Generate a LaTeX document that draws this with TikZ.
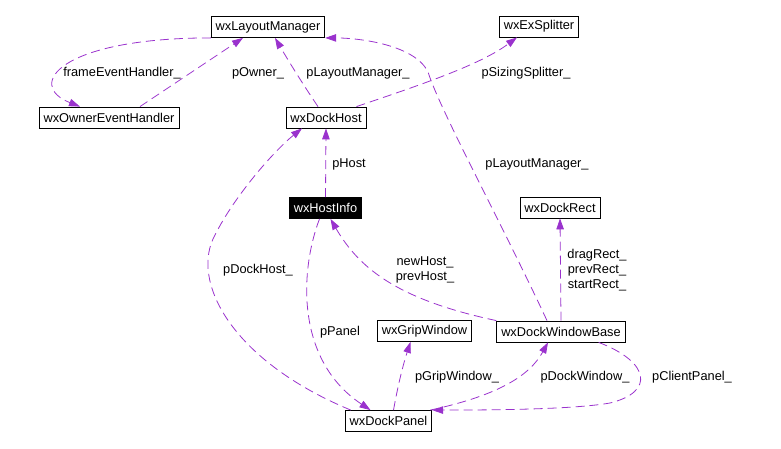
\documentclass[tikz,border=0pt]{standalone}
\usepackage{fontspec}
\setmainfont{Liberation Sans}
\usetikzlibrary{arrows.meta, calc}
\definecolor{usagecol}{HTML}{9A32CD}

\begin{document}
\begin{tikzpicture}[x=1pt, y=-1pt,
    font=\fontsize{12.8}{15}\selectfont,
    cls/.style={draw, rectangle, line width=0.8pt, inner xsep=4.5pt, inner ysep=0pt, minimum height=21pt},
    focus/.style={cls, fill=black, text=white},
    usage/.style={draw=usagecol, line width=0.8pt, dash pattern=on 9pt off 5pt, -{Triangle[length=11pt, width=7.5pt, fill=usagecol]}},
    lbl/.style={inner sep=0pt, align=center}]
    \useasboundingbox (0,0) rectangle (781,449);
    % classes
    \node[cls] (lm) at (268,27) {wxLayoutManager};
    \node[cls] (oeh) at (109,117.5) {wxOwnerEventHandler};
    \node[cls] (dh) at (326,117.5) {wxDockHost};
    \node[cls] (exs) at (539,26.5) {wxExSplitter};
    \node[focus] (hi) at (325.5,208) {wxHostInfo};
    \node[cls] (dr) at (560,207.5) {wxDockRect};
    \node[cls] (gw) at (424.5,331) {wxGripWindow};
    \node[cls] (dwb) at (561,331.5) {wxDockWindowBase};
    \node[cls] (dp) at (388.5,421) {wxDockPanel};
    % members
    \draw[usage] (lm.south west) .. controls (60,38) and (25,85) .. ($(oeh.north)+(-29,0)$);
    \node[lbl] (l1) at (122,73) {frameEventHandler\_};
    \draw[usage] ($(oeh.north)+(31,0)$) -- ($(lm.south)+(-25,0)$);
    \node[lbl] (l2) at (258,73) {pOwner\_};
    \draw[usage] ($(dh.north)+(-8,0)$) .. controls (300,80) and (285,55) .. ($(lm.south)+(7,0)$);
    \node[lbl] (l3) at (358,73) {pLayoutManager\_};
    \draw[usage] ($(dh.north east)+(-10,0)$) .. controls (420,85) and (480,65) .. ($(exs.south)+(-22,0)$);
    \node[lbl] (l4) at (526,73) {pSizingSplitter\_};
    \draw[usage] ($(dwb.north)+(-14,0)$) .. controls (500,220) and (440,110) .. (428,72)
        .. controls (415,45) and (360,38) .. (lm.south east);
    \node[lbl] (l5) at (537,164) {pLayoutManager\_};
    \draw[usage] (hi.north) -- (dh.south);
    \node[lbl] (l6) at (349,164) {pHost};
    \draw[usage] ($(dp.north west)+(6,0)$) .. controls (230,360) and (190,280) .. (215,235)
        .. controls (235,195) and (275,150) .. ($(dh.south)+(-24,0)$);
    \node[lbl] (l7) at (258,270) {pDockHost\_};
    \draw[usage] ($(hi.south)+(-6,0)$) .. controls (300,270) and (295,360) .. ($(dp.north)+(-18,0)$);
    \node[lbl] (l8) at (340,332) {pPanel};
    \draw[usage] (dwb.north west) .. controls (400,300) and (360,270) .. ($(hi.south)+(5,0)$);
    \node[lbl] (l9) at (425,270) {newHost\_\\prevHost\_};
    \draw[usage] (dwb.north) -- (dr.south);
    \node[lbl] (l10) at (597,270) {dragRect\_\\prevRect\_\\startRect\_};
    \draw[usage] ($(dp.north)+(5,0)$) .. controls (398,385) and (403,365) .. ($(gw.south)+(-14,0)$);
    \node[lbl] (l11) at (457,377) {pGripWindow\_};
    \draw[usage] ($(dp.north east)+(-2,0)$) .. controls (500,395) and (530,375) .. ($(dwb.south)+(-13,0)$);
    \node[lbl] (l12) at (585,377) {pDockWindow\_};
    \draw[usage] ($(dwb.south east)+(-27,0)$) .. controls (650,362) and (655,392) .. (610,403)
        .. controls (570,410) and (480,410) .. (dp.north east);
    \node[lbl] (l13) at (692,377) {pClientPanel\_};
\end{tikzpicture}
\end{document}
